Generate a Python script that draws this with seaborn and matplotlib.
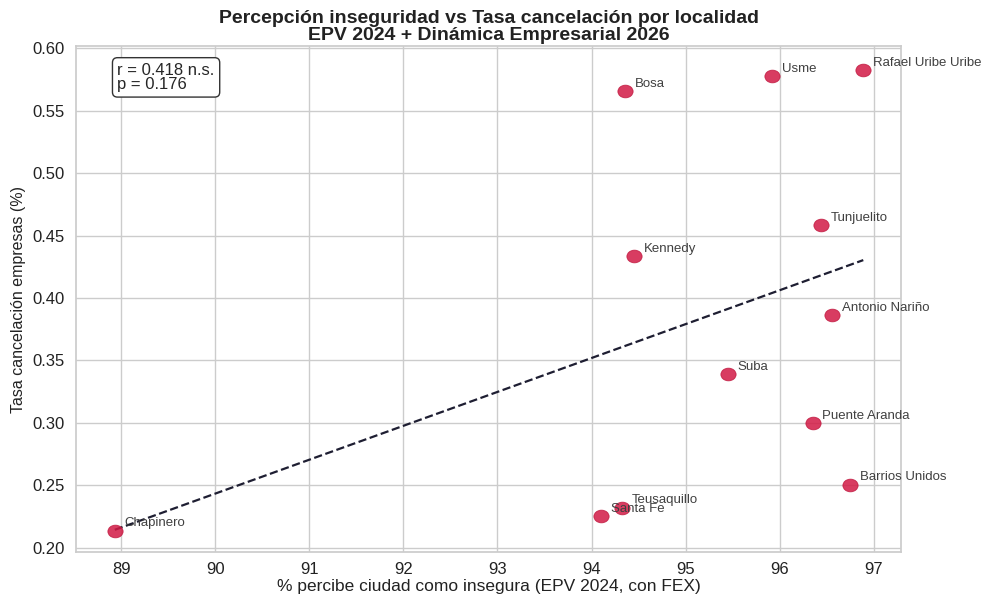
import numpy as np
import pandas as pd
import matplotlib
matplotlib.use("Agg")
import matplotlib.pyplot as plt
from matplotlib.path import Path
import seaborn as sns

localidades = ["Chapinero", "Santa Fe", "Teusaquillo", "Bosa", "Kennedy", "Suba",
               "Usme", "Tunjuelito", "Antonio Nariño", "Puente Aranda",
               "Barrios Unidos", "Rafael Uribe Uribe"]
pct_insegura = [88.93, 94.10, 94.32, 94.36, 94.45, 95.45,
                95.92, 96.44, 96.56, 96.35, 96.75, 96.89]
tasa_cancel = [0.2136, 0.2249, 0.2320, 0.5657, 0.4334, 0.3387,
               0.5777, 0.4582, 0.3860, 0.2994, 0.2505, 0.5825]
x_ticks = [89, 90, 91, 92, 93, 94, 95, 96, 97]
y_ticks = [0.20, 0.25, 0.30, 0.35, 0.40, 0.45, 0.50, 0.55, 0.60]
stats_text = "r = 0.418 n.s.\np = 0.176"

df = pd.DataFrame({"loc": localidades, "x": pct_insegura, "y": tasa_cancel})

sns.set_theme(style="whitegrid")
plt.rcParams["font.family"] = ["Liberation Sans", "DejaVu Sans"]

# slightly wide elliptical marker (reference looks horizontally stretched)
circ = Path.unit_circle()
ell = Path(circ.vertices * np.array([1.2, 1.0]), circ.codes)

fig, ax = plt.subplots(figsize=(9.9, 5.96), dpi=100)
fig.subplots_adjust(left=0.077, right=0.910, top=0.922, bottom=0.073)

sns.scatterplot(data=df, x="x", y="y", ax=ax, s=120, marker=ell, color="#d21a45",
                alpha=0.85, edgecolor="#c0183f", linewidth=0.6, zorder=3)

for _, r in df.iterrows():
    ax.annotate(r["loc"], (r["x"], r["y"]), xytext=(7, 3),
                textcoords="offset points", fontsize=9.5, color="#404040")

coef = np.polyfit(df["x"], df["y"], 1)
xs = np.linspace(df["x"].min(), df["x"].max(), 50)
ax.plot(xs, np.polyval(coef, xs), "--", color="#1e1e32", lw=1.6, zorder=2)

ax.text(0.05, 0.968, stats_text, transform=ax.transAxes, fontsize=12,
        va="top", ha="left", linespacing=0.95,
        bbox=dict(boxstyle="round,pad=0.3", facecolor="white",
                  edgecolor="#333333", lw=1.0))

ax.set_xlim(88.52, 97.29)
ax.set_ylim(0.196, 0.6016)
ax.set_xticks(x_ticks)
ax.set_yticks(y_ticks)
ax.set_yticklabels([f"{v:.2f}" for v in y_ticks])
ax.tick_params(axis="x", labelsize=12, colors="#222222", pad=1)
ax.tick_params(axis="y", labelsize=12, colors="#222222", pad=2)
ax.set_xlabel("% percibe ciudad como insegura (EPV 2024, con FEX)",
              fontsize=12.5, color="#222222", labelpad=1)
ax.set_ylabel("Tasa cancelación empresas (%)", fontsize=11.5,
              color="#222222", labelpad=5)
ax.set_title("Percepción inseguridad vs Tasa cancelación por localidad\n"
             "EPV 2024 + Dinámica Empresarial 2026",
             fontsize=14, fontweight="bold", color="#222222", pad=5,
             linespacing=1.0)
for sp in ax.spines.values():
    sp.set_color("#cccccc")
    sp.set_visible(True)

fig.savefig("out.png", dpi=100)
